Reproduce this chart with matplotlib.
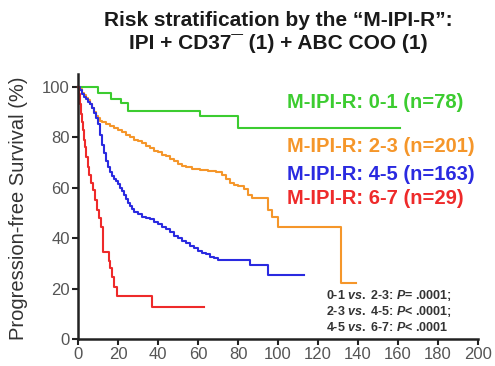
import matplotlib
matplotlib.use("Agg")
import matplotlib.pyplot as plt

plt.rcParams['font.family'] = ['Liberation Sans', 'DejaVu Sans']
plt.rcParams['mathtext.fontset'] = 'custom'
plt.rcParams['mathtext.it'] = 'Liberation Sans:italic:bold'
plt.rcParams['mathtext.rm'] = 'Liberation Sans:bold'

title_lines = ["Risk stratification by the \u201cM-IPI-R\u201d:", "IPI + CD37\u00af (1) + ABC COO (1)"]
ylabel = "Progression-free Survival (%)"

green_t = [0, 10, 16.7, 21.7, 25, 61, 80, 161]
green_s = [100, 97.6, 95, 93.6, 90.5, 88.5, 83.5, 83.5]

orange_t = [0, 1, 2, 3, 4, 5, 6, 7, 8, 9, 10, 11, 12, 14, 16, 18, 20, 22, 24, 26, 28, 30, 32, 34,
            36, 38, 40, 42, 44, 46, 48, 50, 52, 54, 57, 61, 65, 69, 72, 74, 76, 78, 80, 83, 85, 87,
            95, 97, 100, 131.5, 139]
orange_s = [100, 99, 97.5, 96.5, 95.5, 94.5, 93, 91.5, 90, 88.5, 87.5, 86.5, 86, 85, 84.5, 83.5,
            83, 82, 81, 80, 79, 78.5, 77.5, 76.5, 75.5, 74.5, 74, 73, 72.5, 71.5, 70.5, 69.5, 68.5,
            68, 67.5, 67, 66.5, 66, 65, 63.5, 62, 61, 60.5, 59.5, 57, 56, 51, 48.5, 44.5, 22, 22]

blue_t = [0, 1, 2, 3, 4, 5, 6, 7, 8, 9, 10, 11, 12, 13, 14, 15, 16, 17, 18, 19, 20, 21, 22, 23,
          24, 25, 26, 27, 28, 30, 32, 34, 36, 38, 40, 42, 44, 46, 48, 50, 52, 54, 56, 58, 60, 62,
          64, 66, 68, 70, 86, 95, 113]
blue_s = [100, 98.5, 97, 96, 95, 94, 93, 91.5, 89.5, 87.5, 85, 81, 77, 73.5, 70.5, 68, 66, 64.5,
          63.5, 62.5, 61.5, 60, 58.5, 57, 55.5, 54, 52.5, 51.5, 50.5, 49.5, 48.5, 48, 47.5, 46.5,
          45.5, 44.5, 43.5, 42.5, 41, 40, 39, 38, 37, 36, 35, 34, 33.5, 32.5, 32, 31.4, 29.5,
          25.5, 25.5]

red_t = [0, 0.5, 1, 1.5, 2, 2.5, 3, 3.5, 4, 5, 5.5, 6.5, 7.5, 8.5, 9.5, 10.5, 11.5, 12.5, 15.5,
         16, 17, 18, 19.5, 37, 63]
red_s = [100, 97, 93, 89, 86, 83, 79, 76, 72, 68, 65, 62, 59, 55, 51, 48, 44.5, 34.5, 31, 28,
         24.6, 20.6, 17, 12.7, 12.7]

series_labels = ["M-IPI-R: 0-1 (n=78)", "M-IPI-R: 2-3 (n=201)", "M-IPI-R: 4-5 (n=163)", "M-IPI-R: 6-7 (n=29)"]
colors = ["#3ccc30", "#f5962a", "#2a2ae0", "#ee2a2a"]

pvals = [r"0-1 $\it{vs.}$ 2-3: $\it{P}$= .0001;",
         r"2-3 $\it{vs.}$ 4-5: $\it{P}$< .0001;",
         r"4-5 $\it{vs.}$ 6-7: $\it{P}$< .0001"]

xticks = list(range(0, 201, 20))
yticks = list(range(0, 101, 20))

fig = plt.figure(figsize=(4.95, 3.66), dpi=100)
ax = fig.add_axes([78/495, 27/366, 400/495, 265/366])

for t, s, c in zip([green_t, orange_t, blue_t, red_t], [green_s, orange_s, blue_s, red_s], colors):
    ax.step(t, s, where='post', color=c, lw=1.5, clip_on=False)

ax.set_xlim(0, 200)
ax.set_ylim(0, 105)
ax.set_xticks(xticks)
ax.set_yticks(yticks)
for sp in ['top', 'right']:
    ax.spines[sp].set_visible(False)
for sp in ['left', 'bottom']:
    ax.spines[sp].set_linewidth(1.8)
    ax.spines[sp].set_color('#222222')
ax.tick_params(axis='both', labelsize=12, colors='#222222', labelcolor='#555555', width=1.5, length=4, pad=2)
ax.set_ylabel(ylabel, fontsize=14.5, color='#333333')
ax.yaxis.set_label_coords(-0.125, 0.4925)

ys = [0.894, 0.725, 0.619, 0.532]
for lab, c, y in zip(series_labels, colors, ys):
    ax.text(0.5225, y, lab, transform=ax.transAxes, color=c, fontsize=14.5, fontweight='bold',
            va='center', ha='left')

pys = [0.166, 0.102, 0.042]
for p, y in zip(pvals, pys):
    ax.text(0.619, y, p, transform=ax.transAxes, fontsize=9, fontweight='bold',
            color='#333333', va='center', ha='left')

fig.text(0.563, 0.945, title_lines[0], ha='center', va='center', fontsize=15, fontweight='bold', color='#1a1a1a')
fig.text(0.563, 0.88, title_lines[1], ha='center', va='center', fontsize=15, fontweight='bold', color='#1a1a1a')

fig.savefig("out.png", dpi=100)
